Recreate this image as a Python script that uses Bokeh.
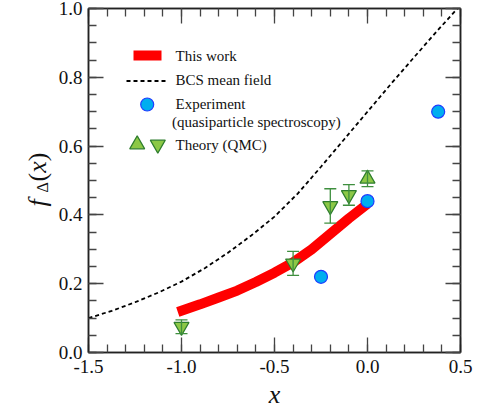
from math import pi
import numpy as np
from bokeh.plotting import figure
from bokeh.layouts import row
from bokeh.models import (Range1d, FixedTicker, LinearAxis, Whisker, TeeHead,
                          ColumnDataSource, CustomJSTickFormatter)
from bokeh.core.properties import value
from bokeh.embed import file_html
from bokeh.resources import INLINE

# ---------------- data ----------------
work_x = [-1.02, -0.9, -0.8, -0.7, -0.6, -0.5, -0.4, -0.3, -0.2, -0.1, 0.0]
work_y = [0.118, 0.140, 0.160, 0.180, 0.205, 0.232, 0.262, 0.300, 0.345, 0.390, 0.432]

bcs_x = [-1.5, -1.375, -1.25, -1.125, -1.0, -0.875, -0.75, -0.625, -0.5,
         -0.375, -0.25, -0.125, 0.0, 0.125, 0.25, 0.375, 0.5]
bcs_y = [0.100, 0.121, 0.146, 0.174, 0.206, 0.245, 0.290, 0.340, 0.395,
         0.462, 0.540, 0.620, 0.700, 0.780, 0.858, 0.935, 1.010]

exp_x = [-0.25, 0.0, 0.38]
exp_y = [0.22, 0.44, 0.70]

qmc_up_x = [0.0]
qmc_up_y = [0.505]
qmc_up_err = [0.023]

qmc_dn_x = [-1.0, -0.4, -0.2, -0.1]
qmc_dn_y = [0.075, 0.259, 0.426, 0.458]
qmc_dn_err = [0.020, 0.035, 0.050, 0.030]

x_ticks = [-1.5, -1.0, -0.5, 0.0, 0.5]
x_tick_labels = ["-1.5", "-1.0", "-0.5", "0.0", "0.5"]
y_ticks = [0.0, 0.2, 0.4, 0.6, 0.8, 1.0]
y_tick_labels = ["0.0", "0.2", "0.4", "0.6", "0.8", "1.0"]

legend_labels = ["This work", "BCS mean field", "Experiment",
                 "(quasiparticle spectroscopy)", "Theory (QMC)"]

# ---------------- layout helpers ----------------
W, H = 478, 411
LABW = 55                      # width of the strip holding the y-axis title
X0, X1, Y0, Y1 = -1.5, 0.5, 0.0, 1.0
FL, FT, FW, FH = 88, 8, 372, 344   # frame position in page pixels


def dx(px):
    return X0 + (px - FL) / FW * (X1 - X0)


def dy(py):
    return Y1 - (py - FT) / FH * (Y1 - Y0)


SERIF = "'Liberation Serif', 'Times New Roman', Times, 'DejaVu Serif', serif"
RED = "#ff0000"
CYAN = "#00aeef"
BLUE = "#1f3dff"
GFILL = "#8cc846"
GLINE = "#2e7d2e"
EBAR = "#3f8f3f"
TXT = "#111111"

p = figure(width=W - LABW, height=H, x_range=Range1d(X0, X1), y_range=Range1d(Y0, Y1),
           output_backend="svg", toolbar_location=None, title=None,
           min_border_left=FL - LABW, min_border_right=W - FL - FW,
           min_border_top=FT, min_border_bottom=H - FT - FH)
p.grid.visible = False
p.background_fill_color = "white"
p.border_fill_color = "white"
p.outline_line_color = "#222222"
p.outline_line_width = 1.5

x_minor = [round(v, 2) for v in np.arange(-1.5, 0.51, 0.1)]
y_minor = [round(v, 3) for v in np.arange(0.0, 1.001, 0.05)]
xtick = FixedTicker(ticks=x_ticks, minor_ticks=x_minor)
ytick = FixedTicker(ticks=y_ticks, minor_ticks=y_minor)


def style_axis(ax, show_labels):
    ax.axis_line_color = "#222222"
    ax.axis_line_width = 1.5
    ax.major_tick_in = 15
    ax.major_tick_out = 0
    ax.minor_tick_in = 8
    ax.minor_tick_out = 0
    ax.major_tick_line_color = "#444444"
    ax.minor_tick_line_color = "#444444"
    ax.major_tick_line_width = 1.3
    ax.minor_tick_line_width = 1.3
    if show_labels:
        ax.major_label_text_font = SERIF
        ax.major_label_text_font_size = "19px"
        ax.major_label_text_color = TXT
    else:
        ax.formatter = CustomJSTickFormatter(code="return ''")
        ax.major_label_text_font_size = "0px"
        ax.major_label_standoff = 0


p.xaxis.ticker = xtick
p.yaxis.ticker = ytick
p.xaxis.major_label_overrides = {t: l for t, l in zip(x_ticks, x_tick_labels)}
p.yaxis.major_label_overrides = {t: l for t, l in zip(y_ticks, y_tick_labels)}
style_axis(p.xaxis[0], True)
style_axis(p.yaxis[0], True)
p.xaxis.major_label_standoff = 7
p.yaxis.major_label_standoff = 6

p.xaxis.axis_label = "x"
p.xaxis.axis_label_text_font = SERIF
p.xaxis.axis_label_text_font_style = "italic"
p.xaxis.axis_label_text_font_size = "26px"
p.xaxis.axis_label_text_color = TXT
p.xaxis.axis_label_standoff = 4

top_ax = LinearAxis(ticker=xtick)
right_ax = LinearAxis(ticker=ytick)
style_axis(top_ax, False)
style_axis(right_ax, False)
p.add_layout(top_ax, "above")
p.add_layout(right_ax, "right")

# ---------------- data marks ----------------
p.line(bcs_x, bcs_y, line_color="black", line_width=1.8, line_dash="4 3")
p.line(work_x, work_y, line_color=RED, line_width=10, line_cap="butt", line_join="round")

up_src = ColumnDataSource(dict(x=qmc_up_x, y=qmc_up_y,
                               upper=[a + b for a, b in zip(qmc_up_y, qmc_up_err)],
                               lower=[a - b for a, b in zip(qmc_up_y, qmc_up_err)]))
dn_src = ColumnDataSource(dict(x=qmc_dn_x, y=qmc_dn_y,
                               upper=[a + b for a, b in zip(qmc_dn_y, qmc_dn_err)],
                               lower=[a - b for a, b in zip(qmc_dn_y, qmc_dn_err)]))
for src in (up_src, dn_src):
    w = Whisker(base="x", upper="upper", lower="lower", source=src, dimension="height",
                line_color=EBAR, line_width=1.3, level="glyph",
                upper_head=TeeHead(size=12, line_color=EBAR, line_width=1.3),
                lower_head=TeeHead(size=12, line_color=EBAR, line_width=1.3))
    p.add_layout(w)

p.scatter("x", "y", source=up_src, marker="triangle", size=15,
          fill_color=GFILL, line_color=GLINE, line_width=1.2)
p.scatter("x", "y", source=dn_src, marker="inverted_triangle", size=15,
          fill_color=GFILL, line_color=GLINE, line_width=1.2)
p.scatter(exp_x, exp_y, marker="circle", size=13, fill_color=CYAN,
          line_color=BLUE, line_width=1.2)

# ---------------- legend (drawn by hand) ----------------
p.line([dx(133), dx(161)], [dy(55), dy(55)], line_color=RED, line_width=10, line_cap="butt")
p.line([dx(126), dx(165)], [dy(80.5), dy(80.5)], line_color="black", line_width=1.8,
       line_dash="4 3")
p.scatter([dx(146.7)], [dy(104)], marker="circle", size=13, fill_color=CYAN,
          line_color=BLUE, line_width=1.2)
p.scatter([dx(136.7)], [dy(144)], marker="triangle", size=15, fill_color=GFILL,
          line_color=GLINE, line_width=1.2)
p.scatter([dx(157.3)], [dy(144)], marker="inverted_triangle", size=15, fill_color=GFILL,
          line_color=GLINE, line_width=1.2)

leg_pos = [(175, 55), (175, 79.5), (175, 103.5), (171.5, 121), (175, 144)]
p.text(x=[dx(px) for px, _ in leg_pos], y=[dy(py) for _, py in leg_pos],
       text=legend_labels, text_font=value(SERIF), text_font_size="15px",
       text_color=TXT, text_align="left", text_baseline="middle")

# ---------------- y-axis title strip (frame aligned with the main frame) ----------------
lab = figure(width=LABW, height=H, x_range=Range1d(0, LABW), y_range=Range1d(Y0, Y1),
             output_backend="svg", toolbar_location=None, title=None,
             x_axis_location=None, y_axis_location=None,
             min_border_left=0, min_border_right=0,
             min_border_top=FT, min_border_bottom=H - FT - FH)
lab.grid.visible = False
lab.outline_line_color = None
lab.background_fill_color = "white"
lab.border_fill_color = "white"

ylab = [("f", 37, 206, "italic", "26px"),
        ("\u0394", 42, 192, "normal", "16px"),
        ("(", 37, 181, "normal", "26px"),
        ("x", 37, 172.3, "italic", "26px"),
        (")", 37, 160.8, "normal", "26px")]
for t, px, py, st, fs in ylab:
    lab.text(x=[px], y=[dy(py)], text=[t], text_font=value(SERIF), angle=pi / 2,
             text_font_style=st, text_font_size=fs, text_color=TXT,
             text_align="left", text_baseline="alphabetic")

layout = row(lab, p, spacing=0)
open("out.html", "w").write(file_html(layout, INLINE))
